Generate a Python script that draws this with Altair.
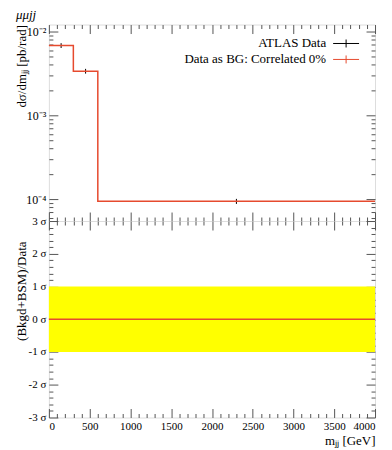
import altair as alt
import pandas as pd

# ---- data ----
bin_edges = [0, 300, 600, 4000]
bg_values = [6.8e-3, 3.36e-3, 9.4e-5]
data_x = [150, 450, 2300]
data_y = [6.8e-3, 3.36e-3, 9.4e-5]
data_err = [0.45e-3, 0.22e-3, 0.65e-5]
band_lo = [-1]
band_hi = [1]
ratio_value = [0]

x_major = list(range(0, 4001, 500))
x_minor = [v for v in range(0, 4001, 100) if v % 500]
ylog_major = [1e-4, 1e-3, 1e-2]
ylog_minor = [m * 10.0 ** e for e in (-5, -4, -3) for m in range(2, 10) if 5.47e-5 < m * 10.0 ** e < 0.0121]
r_major = [-3, -2, -1, 0, 1, 2, 3]
r_minor = [i / 5 for i in range(-15, 16) if i % 5]

RED = "#e64a2e"
FONT = "Liberation Serif"
TICK = "#555555"
W, H1, H2 = 327, 197, 197

xs = alt.Scale(domain=[0, 4000], nice=False, zero=False)
ys = alt.Scale(type="log", domain=[5.47e-5, 0.0121], nice=False)
rs = alt.Scale(domain=[-3, 3], nice=False)


def axis(orient, values, size, **kw):
    base = dict(orient=orient, values=values, tickSize=size, offset=-size, domain=False,
                grid=False, labels=False, title=None, tickColor=TICK, tickWidth=1,
                minExtent=0, labelFont=FONT, titleFont=FONT, labelColor="black",
                titleColor="black", titleFontWeight="normal")
    base.update(kw)
    return alt.Axis(**base)


step_df = pd.DataFrame({"x": bin_edges, "y": bg_values + [bg_values[-1]]})
pts_df = pd.DataFrame({
    "x": data_x,
    "lo": [v - e for v, e in zip(data_y, data_err)],
    "hi": [v + e for v, e in zip(data_y, data_err)],
})

err = alt.Chart(pts_df).mark_rule(color="black", strokeWidth=1).encode(
    x=alt.X("x:Q", scale=xs, axis=axis("top", x_major, 9)),
    y=alt.Y("lo:Q", scale=ys, axis=axis("right", ylog_major, 9)),
    y2="hi:Q",
)
line = alt.Chart(step_df).mark_line(interpolate="step-after", color=RED, strokeWidth=1.5).encode(
    x=alt.X("x:Q", scale=xs, axis=axis("bottom", x_major, 9)),
    y=alt.Y("y:Q", scale=ys, axis=axis(
        "left", ylog_major, 9, labels=True, labelFontSize=12, labelPadding=3,
        labelExpr="datum.value < 5e-4 ? '10⁻⁴' : datum.value < 5e-3 ? '10⁻³' : '10⁻²'",
        title="dσ/dmⱼⱼ [pb/rad]", titleFontSize=13, titleAngle=-90, titleAlign="right",
        titleBaseline="middle", titleX=-36, titleY=0)),
)
minor1 = alt.Chart(step_df).mark_line(opacity=0).encode(
    x=alt.X("x:Q", scale=xs, axis=axis("bottom", x_minor, 4)),
    y=alt.Y("y:Q", scale=ys, axis=axis("left", ylog_minor, 4)),
)
minor2 = alt.Chart(step_df).mark_line(opacity=0).encode(
    x=alt.X("x:Q", scale=xs, axis=axis("top", x_minor, 4)),
    y=alt.Y("y:Q", scale=ys, axis=axis("right", ylog_minor, 4)),
)

leg_df = pd.DataFrame({"label": ["ATLAS Data", "Data as BG: Correlated 0%"], "c": ["black", RED]})
leg1 = alt.Chart(leg_df.iloc[[0]]).mark_text(align="right", baseline="middle", font=FONT, fontSize=13).encode(
    text="label:N", x=alt.value(278), y=alt.value(19))
leg2 = alt.Chart(leg_df.iloc[[1]]).mark_text(align="right", baseline="middle", font=FONT, fontSize=13).encode(
    text="label:N", x=alt.value(278), y=alt.value(35))
s1h = alt.Chart(leg_df.iloc[[0]]).mark_rule(color="black").encode(x=alt.value(285), x2=alt.value(311), y=alt.value(19))
s1v = alt.Chart(leg_df.iloc[[0]]).mark_rule(color="black").encode(x=alt.value(298), y=alt.value(15), y2=alt.value(23))
s2h = alt.Chart(leg_df.iloc[[1]]).mark_rule(color=RED).encode(x=alt.value(285), x2=alt.value(311), y=alt.value(35))
s2v = alt.Chart(leg_df.iloc[[1]]).mark_rule(color=RED).encode(x=alt.value(298), y=alt.value(31), y2=alt.value(39))

top = alt.layer(err, line, minor1, minor2, leg1, leg2, s1h, s1v, s2h, s2v).resolve_axis(
    x="independent", y="independent").properties(
    width=W, height=H1,
    title=alt.Title("μμjj", anchor="start", fontStyle="italic", fontSize=13, font=FONT,
                    fontWeight="normal", offset=2))

# ---- ratio panel ----
band_df = pd.DataFrame({"x": [bin_edges[0]], "x2": [bin_edges[-1]], "lo": band_lo, "hi": band_hi})
rline_df = pd.DataFrame({"x": [bin_edges[0]], "x2": [bin_edges[-1]], "y": ratio_value})

band = alt.Chart(band_df).mark_rect(color="#ffff00").encode(
    x=alt.X("x:Q", scale=xs, axis=axis(
        "bottom", x_major, 9, labels=True, labelFontSize=11, labelPadding=3, format="d",
        title="mⱼⱼ [GeV]", titleFontSize=13, titleAnchor="end", titlePadding=3)),
    x2="x2:Q",
    y=alt.Y("lo:Q", scale=rs, axis=axis(
        "left", r_major, 9, labels=True, labelFontSize=11, labelPadding=3,
        labelExpr="(datum.value < 0 ? '-' : '') + abs(datum.value) + ' σ'",
        title="(Bkgd+BSM)/Data", titleFontSize=13, titleAngle=-90, titleAlign="right",
        titleBaseline="middle", titleX=-36, titleY=20)),
    y2="hi:Q",
)
rline = alt.Chart(rline_df).mark_rule(color=RED, strokeWidth=1.5).encode(
    x=alt.X("x:Q", scale=xs, axis=axis("top", x_major, 9)),
    x2="x2:Q",
    y=alt.Y("y:Q", scale=rs, axis=axis("right", r_major, 9)),
)
rminor1 = alt.Chart(band_df).mark_rect(opacity=0).encode(
    x=alt.X("x:Q", scale=xs, axis=axis("bottom", x_minor, 4)), x2="x2:Q",
    y=alt.Y("lo:Q", scale=rs, axis=axis("left", r_minor, 4)), y2="hi:Q",
)
rminor2 = alt.Chart(band_df).mark_rect(opacity=0).encode(
    x=alt.X("x:Q", scale=xs, axis=axis("top", x_minor, 4)), x2="x2:Q",
    y=alt.Y("lo:Q", scale=rs, axis=axis("right", r_minor, 4)), y2="hi:Q",
)

bottom = alt.layer(band, rline, rminor1, rminor2).resolve_axis(
    x="independent", y="independent").properties(width=W, height=H2)

chart = alt.vconcat(top, bottom, spacing=0, bounds="flush").properties(
    padding={"left": 7, "top": 0, "right": 5, "bottom": 0}
).configure_view(stroke="#666666", strokeWidth=1).configure(font=FONT)

chart.save("out.html", embed_options={"renderer": "svg", "actions": False})
